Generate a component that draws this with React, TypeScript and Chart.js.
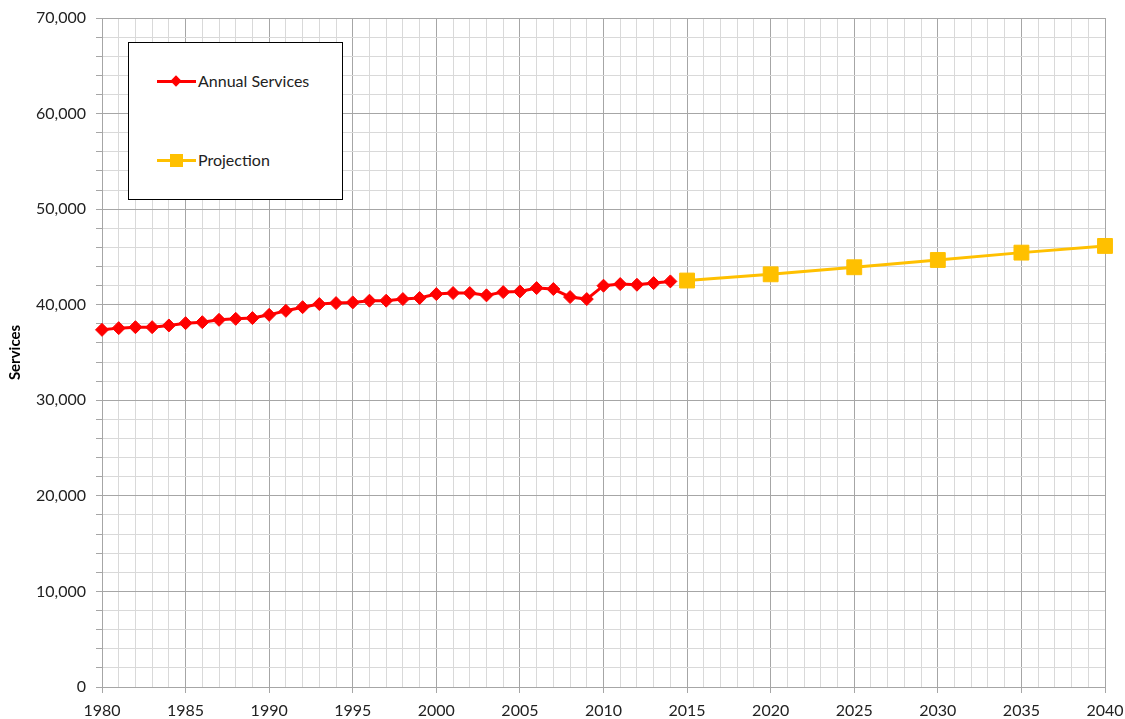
import React, { useEffect, useRef } from "react";
import { Chart, registerables } from "chart.js";

Chart.register(...registerables);

const annualYears = [
  1980, 1981, 1982, 1983, 1984, 1985, 1986, 1987, 1988, 1989,
  1990, 1991, 1992, 1993, 1994, 1995, 1996, 1997, 1998, 1999,
  2000, 2001, 2002, 2003, 2004, 2005, 2006, 2007, 2008, 2009,
  2010, 2011, 2012, 2013, 2014,
];
const annualServices = [
  37370, 37550, 37650, 37650, 37830, 38070, 38170, 38420, 38520, 38600,
  38940, 39360, 39740, 40070, 40170, 40240, 40420, 40420, 40590, 40700,
  41110, 41220, 41220, 40980, 41320, 41390, 41740, 41640, 40800, 40590,
  41990, 42160, 42090, 42260, 42440,
];
const projectionYears = [2015, 2020, 2025, 2030, 2035, 2040];
const projectionValues = [42530, 43180, 43920, 44680, 45450, 46150];

const FONT = "Lato, 'Open Sans', sans-serif";
const MAJOR = "#a6a6a6";
const MINOR = "#d9d9d9";

export default function App() {
  const ref = useRef<HTMLCanvasElement | null>(null);

  useEffect(() => {
    document.body.style.margin = "0";
    const canvas = ref.current;
    if (!canvas) return;
    const chart = new Chart(canvas, {
      type: "line",
      data: {
        datasets: [
          {
            label: "Annual Services",
            data: annualYears.map((x, i) => ({ x, y: annualServices[i] })),
            borderColor: "#ff0000",
            backgroundColor: "#ff0000",
            borderWidth: 3,
            pointStyle: "rectRot",
            pointRadius: 6.5,
            pointBorderWidth: 1,
            pointBackgroundColor: "#ff0000",
            pointBorderColor: "#ff0000",
            clip: false,
          },
          {
            label: "Projection",
            data: projectionYears.map((x, i) => ({ x, y: projectionValues[i] })),
            borderColor: "#ffc000",
            backgroundColor: "#ffc000",
            borderWidth: 3,
            pointStyle: "rect",
            pointRadius: 10.5,
            pointBorderWidth: 1,
            pointBackgroundColor: "#ffc000",
            pointBorderColor: "#ffc000",
            clip: false,
          },
        ],
      },
      options: {
        responsive: false,
        animation: false,
        layout: { autoPadding: false, padding: { top: 18, right: 20, left: 0, bottom: 0 } },
        plugins: { legend: { display: false }, tooltip: { enabled: false } },
        scales: {
          x: {
            type: "linear",
            min: 1980,
            max: 2040,
            afterFit: (s: any) => {
              s.height = 32;
              s.paddingLeft = 0;
              s.paddingRight = 0;
            },
            afterBuildTicks: (s: any) => {
              const t = [];
              for (let v = 1980; v <= 2040; v++) t.push({ value: v });
              s.ticks = t;
            },
            border: { color: MAJOR, width: 1 },
            grid: {
              color: (c: any) => (c.tick && c.tick.value % 5 === 0 ? MAJOR : MINOR),
              tickColor: (c: any) => (c.tick && c.tick.value % 5 === 0 ? MAJOR : "rgba(0,0,0,0)"),
              tickLength: 6,
              lineWidth: 1,
            },
            ticks: {
              autoSkip: false,
              maxRotation: 0,
              padding: 8,
              color: "#222",
              font: { family: FONT, size: 16 },
              callback: (v: any) => (Number(v) % 5 === 0 ? String(v) : ""),
            },
          },
          y: {
            type: "linear",
            min: 0,
            max: 70000,
            afterFit: (s: any) => {
              s.width = 102;
              s.paddingTop = 0;
              s.paddingBottom = 0;
            },
            afterBuildTicks: (s: any) => {
              const t = [];
              for (let v = 0; v <= 70000; v += 2000) t.push({ value: v });
              s.ticks = t;
            },
            border: { color: MAJOR, width: 1 },
            grid: {
              color: (c: any) => (c.tick && c.tick.value % 10000 === 0 ? MAJOR : MINOR),
              tickColor: MAJOR,
              tickLength: 6,
              lineWidth: 1,
            },
            title: {
              display: true,
              text: "Services",
              color: "#000",
              font: { family: FONT, size: 15, weight: "bold" },
              padding: { top: 6, bottom: 0 },
            },
            ticks: {
              autoSkip: false,
              padding: 10,
              color: "#222",
              font: { family: FONT, size: 16 },
              callback: (v: any) =>
                Number(v) % 10000 === 0 ? Number(v).toLocaleString("en-US") : "",
            },
          },
        },
      },
    });
    return () => chart.destroy();
  }, []);

  const itemText: React.CSSProperties = {
    position: "absolute",
    left: 69,
    fontFamily: FONT,
    fontSize: 16,
    color: "#222",
    lineHeight: "18px",
    whiteSpace: "nowrap",
  };

  return (
    <div style={{ position: "relative", width: 1125, height: 719 }}>
      <canvas ref={ref} width={1125} height={719} />
      <div
        style={{
          position: "absolute",
          left: 128,
          top: 42,
          width: 213,
          height: 156,
          border: "1px solid #000",
          background: "#fff",
        }}
      >
        <div style={{ position: "absolute", left: 28, top: 37, width: 39, height: 3, background: "#ff0000" }} />
        <div
          style={{
            position: "absolute",
            left: 43,
            top: 34,
            width: 8,
            height: 8,
            background: "#ff0000",
            transform: "rotate(45deg)",
          }}
        />
        <div style={{ ...itemText, top: 29 }}>Annual Services</div>
        <div style={{ position: "absolute", left: 28, top: 116, width: 39, height: 3, background: "#ffc000" }} />
        <div
          style={{
            position: "absolute",
            left: 41,
            top: 111,
            width: 13,
            height: 13,
            background: "#ffc000",
          }}
        />
        <div style={{ ...itemText, top: 108 }}>Projection</div>
      </div>
    </div>
  );
}
